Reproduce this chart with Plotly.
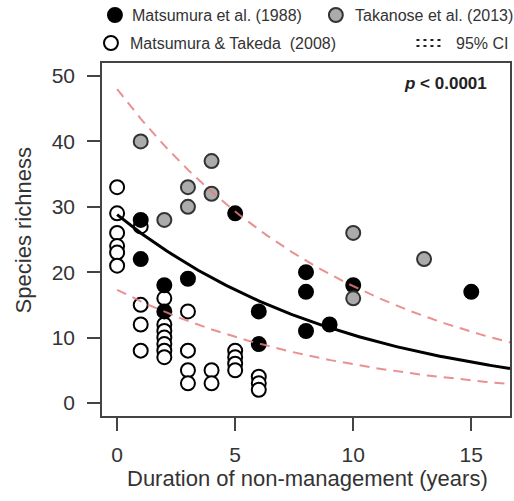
import numpy as np
import plotly.graph_objects as go

# ---- data ----
open_x = [0, 0, 0, 0, 0, 0, 1, 1, 1, 1, 2, 2, 2, 2, 2, 2, 2, 3, 3, 3, 3, 4, 4, 5, 5, 5, 5, 6, 6, 6]
open_y = [33, 29, 26, 24, 23, 21, 27, 15, 12, 8, 16, 12, 11, 10, 9, 8, 7, 14, 8, 5, 3, 5, 3, 8, 7, 6, 5, 4, 3, 2]

black_x = [1, 1, 2, 2, 3, 5, 6, 6, 8, 8, 8, 9, 10, 15]
black_y = [28, 22, 18, 14, 19, 29, 14, 9, 20, 17, 11, 12, 18, 17]

grey_x = [1, 2, 3, 3, 4, 4, 10, 10, 13]
grey_y = [40, 28, 33, 30, 37, 32, 26, 16, 22]

x_ticks = [0, 5, 10, 15]
y_ticks = [0, 10, 20, 30, 40, 50]

# fitted model (log link): mean and 95% CI bounds, intercept/slope pairs
fit_a, fit_b = 28.8, -0.102
upr_a, upr_b = 48.0, -0.0989
lwr_a, lwr_b = 17.3, -0.1076

series_names = ["Matsumura et al. (1988)", "Takanose et al. (2013)",
                "Matsumura &amp; Takeda\u00a0 (2008)", "95% CI"]

xs = np.linspace(0, 16.64, 200)
fit_y = fit_a * np.exp(fit_b * xs)
upr_y = upr_a * np.exp(upr_b * xs)
lwr_y = lwr_a * np.exp(lwr_b * xs)

TXT = "#333333"
FONT = "Liberation Sans, Arial, Helvetica, sans-serif"
GREY_FILL = "#ababab"
GREY_LINE = "#333333"
MS = 14

fig = go.Figure()

fig.add_trace(go.Scatter(x=open_x, y=open_y, mode="markers",
                         marker=dict(size=MS, color="white", line=dict(color="black", width=2)),
                         showlegend=False))
fig.add_trace(go.Scatter(x=black_x, y=black_y, mode="markers",
                         marker=dict(size=MS, color="black", line=dict(color="black", width=2)),
                         showlegend=False))
fig.add_trace(go.Scatter(x=grey_x, y=grey_y, mode="markers",
                         marker=dict(size=MS, color=GREY_FILL, line=dict(color=GREY_LINE, width=2)),
                         showlegend=False))

dash_col = "rgba(230,125,125,0.85)"
fig.add_trace(go.Scatter(x=xs, y=upr_y, mode="lines",
                         line=dict(color=dash_col, width=2, dash="10px,7px"), showlegend=False))
fig.add_trace(go.Scatter(x=xs, y=lwr_y, mode="lines",
                         line=dict(color=dash_col, width=2, dash="10px,7px"), showlegend=False))
fig.add_trace(go.Scatter(x=xs, y=fit_y, mode="lines",
                         line=dict(color="black", width=3), showlegend=False))

L, R, T, B = 102, 512, 63, 416
W, H = 514, 501


def px(x):
    return (x - L) / (R - L)


def py(y):
    return (B - y) / (B - T)


# legend symbols drawn as paper-referenced shapes
shapes = []
rad = 7.0
for cx, cy, fill, lc in [(115, 15, "black", "black"), (337, 15, GREY_FILL, GREY_LINE),
                         (111, 43, "white", "black")]:
    shapes.append(dict(type="circle", xref="paper", yref="paper",
                       x0=px(cx - rad), x1=px(cx + rad), y0=py(cy + rad), y1=py(cy - rad),
                       fillcolor=fill, line=dict(color=lc, width=2)))
for yy in (40, 46):
    shapes.append(dict(type="line", xref="paper", yref="paper",
                       x0=px(418), x1=px(444), y0=py(yy), y1=py(yy),
                       line=dict(color="#222222", width=2, dash="3px,4px")))

annotations = [
    dict(text=series_names[0], x=px(130), y=py(15), xanchor="left", yanchor="middle"),
    dict(text=series_names[1], x=px(354), y=py(15), xanchor="left", yanchor="middle"),
    dict(text=series_names[2], x=px(128), y=py(43), xanchor="left", yanchor="middle"),
    dict(text=series_names[3], x=px(456), y=py(43), xanchor="left", yanchor="middle"),
]
for a in annotations:
    a.update(xref="paper", yref="paper", showarrow=False, font=dict(size=16, color=TXT, family=FONT))

annotations.append(dict(text="<b><i>p</i> < 0.0001</b>", x=px(491), y=py(83), xref="paper", yref="paper",
                        xanchor="right", yanchor="middle", showarrow=False,
                        font=dict(size=17, color="#222222", family=FONT)))
annotations.append(dict(text="Duration of non-management (years)", x=px(309), y=py(478),
                        xref="paper", yref="paper", xanchor="center", yanchor="middle",
                        showarrow=False, font=dict(size=22, color=TXT, family=FONT)))
annotations.append(dict(text="Species richness", x=px(23), y=py(230), textangle=-90,
                        xref="paper", yref="paper", xanchor="center", yanchor="middle",
                        showarrow=False, font=dict(size=22, color=TXT, family=FONT)))

axis_common = dict(showgrid=False, zeroline=False, showline=True, linecolor="#444444", linewidth=1.5,
                   mirror=True, ticks="outside", ticklen=13, tickwidth=1.5, tickcolor="#444444",
                   tickfont=dict(size=21, color=TXT, family=FONT))

fig.update_layout(
    width=W, height=H,
    margin=dict(l=L, r=W - R, t=T, b=H - B),
    paper_bgcolor="white", plot_bgcolor="white",
    xaxis=dict(range=[-0.64, 16.64], tickvals=x_ticks, ticklabelstandoff=6, **axis_common),
    yaxis=dict(range=[-2, 52], tickvals=y_ticks, ticklabelstandoff=8, **axis_common),
    annotations=annotations,
    shapes=shapes,
    showlegend=False,
)

fig.write_html("out.html")
